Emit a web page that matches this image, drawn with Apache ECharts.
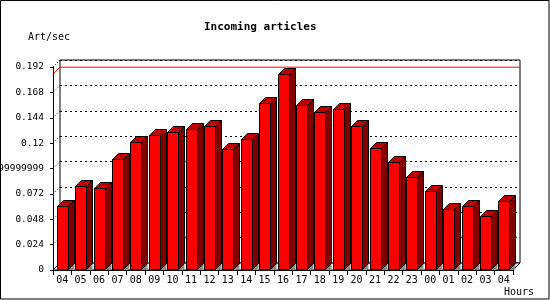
<!DOCTYPE html>
<html><head><meta charset="utf-8">
<script src="https://cdn.jsdelivr.net/npm/echarts@6/dist/echarts.min.js"></script>
<style>html,body{margin:0;padding:0;background:#fff}#c{width:550px;height:300px}</style>
</head><body><div id="c"></div>
<script>
const categories = ['04','05','06','07','08','09','10','11','12','13','14','15','16','17','18','19','20','21','22','23','00','01','02','03','04'];
const values = [0.0602,0.0792,0.0771,0.1049,0.1207,0.1274,0.1302,0.1330,0.1362,0.1141,0.1236,0.1577,0.1852,0.1558,0.1492,0.1520,0.1359,0.1150,0.1017,0.0884,0.0745,0.0581,0.0609,0.0514,0.0657];
const yTickValues = [0,0.024,0.048,0.072,0.096,0.12,0.144,0.168,0.192];
const yTickLabels = ['0','0.024','0.048','0.072','0.09599999999999999','0.12','0.144','0.168','0.192'];
const titleText = 'Incoming articles';
const yAxisTitle = 'Art/sec';
const xAxisTitle = 'Hours';

const WALL_D = 7;
const BAR_D = 6;
const FONT = '"DejaVu Sans Mono", "Liberation Mono", monospace';
const maxVal = Math.max.apply(null, values);

const chart = echarts.init(document.getElementById('c'), null, {renderer: 'canvas'});

function labelFor(v) {
  const i = yTickValues.findIndex(t => Math.abs(t - v) < 1e-9);
  return i >= 0 ? yTickLabels[i] : String(v);
}

const option = {
  animation: false,
  backgroundColor: '#ffffff',
  title: {
    text: titleText, left: 204, top: 21, padding: 0,
    textStyle: {fontFamily: FONT, fontSize: 11, fontWeight: 'bold', color: '#000', lineHeight: 12}
  },
  graphic: [
    {type: 'rect', shape: {x: 0.5, y: 0.5, width: 548.5, height: 298.5}, style: {fill: null, stroke: '#000', lineWidth: 1}, z: 100, silent: true},
    {type: 'text', x: 28, y: 37, style: {text: yAxisTitle, font: '10px ' + FONT, fill: '#000', textVerticalAlign: 'middle'}},
    {type: 'text', x: 504, y: 292, style: {text: xAxisTitle, font: '10px ' + FONT, fill: '#000', textVerticalAlign: 'middle'}}
  ],
  grid: [
    {left: 53, right: 37, top: 67, bottom: 30, show: false, containLabel: false, outerBoundsMode: 'none'},
    {left: 53 + WALL_D, right: 37 - WALL_D, top: 67 - WALL_D, bottom: 30 + WALL_D, show: true, borderColor: '#000', borderWidth: 1, backgroundColor: '#fff', z: -1, containLabel: false, outerBoundsMode: 'none'}
  ],
  xAxis: [
    {
      type: 'category', gridIndex: 0, data: categories, boundaryGap: true,
      axisLine: {show: true, lineStyle: {color: '#000', width: 1}},
      axisTick: {show: true, length: 5, inside: false, alignWithLabel: false, interval: 0, lineStyle: {color: '#000'}},
      axisLabel: {interval: 0, margin: 5, fontFamily: FONT, fontSize: 10, color: '#000'},
      splitLine: {show: false}, z: 3
    },
    {
      type: 'category', gridIndex: 1, data: categories, show: false
    }
  ],
  yAxis: [
    {
      type: 'value', gridIndex: 0, min: 0, max: 0.192, interval: 0.024,
      axisLine: {show: true, lineStyle: {color: '#000', width: 1}},
      axisTick: {show: true, length: 3, inside: false, lineStyle: {color: '#000'}},
      axisLabel: {margin: 9, fontFamily: FONT, fontSize: 9.5, color: '#000', formatter: labelFor},
      splitLine: {show: false}, z: 3
    },
    {
      type: 'value', gridIndex: 1, min: 0, max: 0.192, interval: 0.024,
      axisLine: {show: false}, axisTick: {show: false}, axisLabel: {show: false},
      splitLine: {show: true, lineStyle: {color: '#000', width: 1, type: [2, 3]}}
    }
  ],
  series: [
    {
      type: 'custom', xAxisIndex: 0, yAxisIndex: 0, z: 1, silent: true,
      data: [[0, 0]],
      renderItem: function (params, api) {
        const cs = params.coordSys;
        const yb = api.coord([0, 0])[1];
        const x0 = cs.x, x1 = cs.x + cs.width;
        return {
          type: 'polygon',
          shape: {points: [[x0, yb], [x1, yb], [x1 + WALL_D, yb - WALL_D], [x0 + WALL_D, yb - WALL_D]]},
          style: {fill: '#fff', stroke: '#000', lineWidth: 1}
        };
      }
    },
    {
      type: 'custom', xAxisIndex: 0, yAxisIndex: 0, z: 1, silent: true,
      data: yTickValues.map(v => [0, v]),
      renderItem: function (params, api) {
        const cs = params.coordSys;
        const y = api.coord([0, api.value(1)])[1];
        return {
          type: 'line',
          shape: {x1: cs.x, y1: y, x2: cs.x + WALL_D, y2: y - WALL_D},
          style: {stroke: '#000', lineWidth: 1, lineDash: [1, 2]}
        };
      }
    },
    {
      type: 'custom', xAxisIndex: 0, yAxisIndex: 0, z: 2, silent: true,
      data: [[0, maxVal]],
      renderItem: function (params, api) {
        const cs = params.coordSys;
        const y = api.coord([0, api.value(1)])[1];
        return {
          type: 'polyline',
          shape: {points: [[cs.x, y], [cs.x + WALL_D, y - WALL_D], [cs.x + cs.width + WALL_D, y - WALL_D]]},
          style: {stroke: '#ff0000', lineWidth: 1, fill: null}
        };
      }
    },
    {
      type: 'custom', name: 'Art/sec', xAxisIndex: 0, yAxisIndex: 0, z: 5,
      data: values.map((v, i) => [i, v]),
      renderItem: function (params, api) {
        const i = api.value(0), v = api.value(1);
        const top = api.coord([i, v]);
        const base = api.coord([i, 0]);
        const w = Math.round(api.size([1, 0])[0] * 0.6);
        const x0 = Math.round(top[0] - w / 2) + 0.5;
        const x1 = x0 + w;
        const yt = Math.round(top[1]) + 0.5;
        const yb = Math.round(base[1]) - 0.5;
        const d = BAR_D;
        const st = {stroke: '#000', lineWidth: 1};
        return {
          type: 'group',
          children: [
            {type: 'polygon', shape: {points: [[x1, yb], [x1 + d, yb - d], [x1 + d, yb]]}, style: {fill: '#8c8c8c', stroke: null}},
            {type: 'polygon', shape: {points: [[x1, yt], [x1 + d, yt - d], [x1 + d, yb - d], [x1, yb]]}, style: Object.assign({fill: '#800000'}, st)},
            {type: 'polygon', shape: {points: [[x0, yt], [x1, yt], [x1 + d, yt - d], [x0 + d, yt - d]]}, style: Object.assign({fill: '#c00000'}, st)},
            {type: 'rect', shape: {x: x0, y: yt, width: w, height: yb - yt}, style: Object.assign({fill: '#ff0000'}, st)}
          ]
        };
      }
    }
  ]
};
chart.setOption(option);
</script>
</body></html>
